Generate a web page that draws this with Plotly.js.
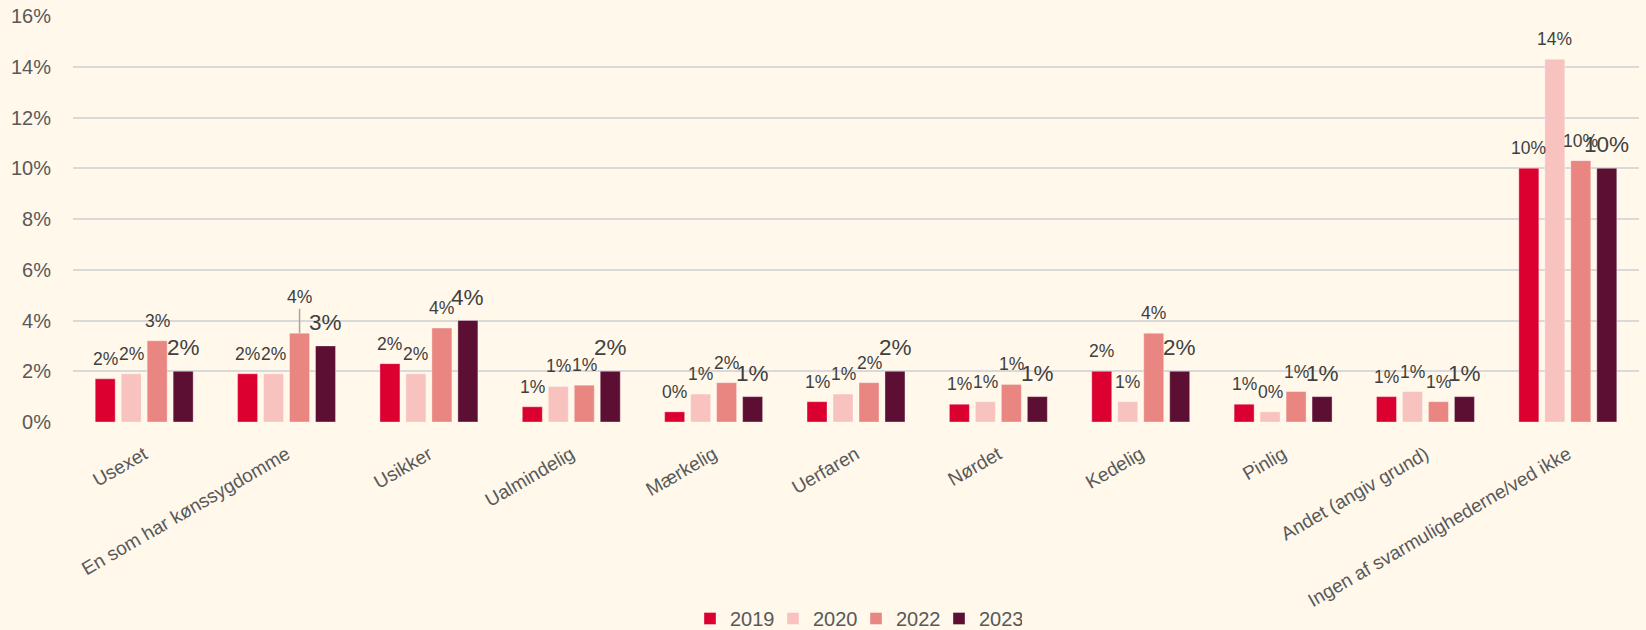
<!DOCTYPE html>
<html>
<head>
<meta charset="utf-8">
<script src="https://cdn.plot.ly/plotly-3.0.1.min.js"></script>
<style>
  html, body { margin: 0; padding: 0; background: #FFF8EB; }
  #chart { width: 1646px; height: 630px; }
</style>
</head>
<body>
<div id="chart"></div>
<script>
const categories = [
  'Usexet', 'En som har kønssygdomme', 'Usikker', 'Ualmindelig', 'Mærkelig',
  'Uerfaren', 'Nørdet', 'Kedelig', 'Pinlig', 'Andet (angiv grund)',
  'Ingen af svarmulighederne/ved ikke'
];
const years = ['2019', '2020', '2022', '2023'];

// andel i procent
const v2019 = [1.7, 1.9, 2.3, 0.6, 0.4, 0.8, 0.7, 2.0, 0.7, 1.0, 10.0];
const v2020 = [1.9, 1.9, 1.9, 1.4, 1.1, 1.1, 0.8, 0.8, 0.4, 1.2, 14.3];
const v2022 = [3.2, 3.5, 3.7, 1.45, 1.55, 1.55, 1.48, 3.5, 1.2, 0.8, 10.3];
const v2023 = [2.0, 3.0, 4.0, 2.0, 1.0, 2.0, 1.0, 2.0, 1.0, 1.0, 10.0];

const yTicks = [0, 2, 4, 6, 8, 10, 12, 14, 16];

const series = [v2019, v2020, v2022, v2023];
const colors = ['#DC0030', '#F8C2BE', '#E98682', '#5C0F33'];
const labelSizes = [17.5, 17.5, 17.5, 22.5];
const labelLift = [8, 8, 8, 9];
const slot = 26;
// label that Excel moved up with a leader line (series index, category index)
const leaderLabels = [{ s: 2, i: 1, lift: 36 }];

const font = 'Liberation Sans, Arial, sans-serif';

const traces = series.map((vals, s) => ({
  type: 'bar',
  name: years[s],
  x: categories,
  y: vals,
  marker: { color: colors[s], line: { color: 'rgba(255,255,255,0.35)', width: 1 } },
  hoverinfo: 'x+y+name'
}));

const annotations = [];
series.forEach((vals, s) => {
  vals.forEach((v, i) => {
    const lead = leaderLabels.find(l => l.s === s && l.i === i);
    const ann = {
      x: categories[i], y: v, xref: 'x', yref: 'y',
      text: Math.round(v) + '%',
      xshift: (s - 1.5) * slot,
      font: { family: font, size: labelSizes[s], color: '#404040' }
    };
    if (lead) {
      Object.assign(ann, {
        showarrow: true, arrowhead: 0, arrowwidth: 1.5, arrowcolor: '#A6A6A6',
        ax: 0, ay: -lead.lift, standoff: 0, startstandoff: 0
      });
    } else {
      Object.assign(ann, { showarrow: false, yanchor: 'bottom', yshift: labelLift[s] });
    }
    annotations.push(ann);
  });
});

const layout = {
  width: 1646,
  height: 630,
  paper_bgcolor: '#FFF8EB',
  plot_bgcolor: '#FFF8EB',
  margin: { l: 73, r: 7, t: 16, b: 208, autoexpand: false },
  barmode: 'group',
  bargap: 0.27,
  bargroupgap: 0.23,
  font: { family: font, color: '#595959' },
  xaxis: {
    type: 'category',
    tickangle: -30,
    tickfont: { family: font, size: 19, color: '#595959' },
    ticks: 'outside',
    ticklen: 13,
    tickcolor: 'rgba(0,0,0,0)',
    showgrid: false,
    showline: false,
    automargin: false
  },
  yaxis: {
    range: [0, 16],
    tickvals: yTicks,
    ticktext: yTicks.map(t => t + '%'),
    tickfont: { family: font, size: 20, color: '#595959' },
    ticks: 'outside',
    ticklen: 17,
    tickcolor: 'rgba(0,0,0,0)',
    showgrid: true,
    gridcolor: '#D9D9D9',
    gridwidth: 2,
    zeroline: false,
    automargin: false
  },
  legend: {
    orientation: 'h',
    x: 0.5, xanchor: 'center',
    y: -0.484, yanchor: 'middle',
    font: { family: font, size: 20, color: '#595959' },
    itemwidth: 30,
    entrywidth: 38,
    bgcolor: 'rgba(0,0,0,0)'
  },
  annotations: annotations,
  showlegend: true
};

Plotly.newPlot('chart', traces, layout, { displayModeBar: false, staticPlot: true });
</script>
</body>
</html>
